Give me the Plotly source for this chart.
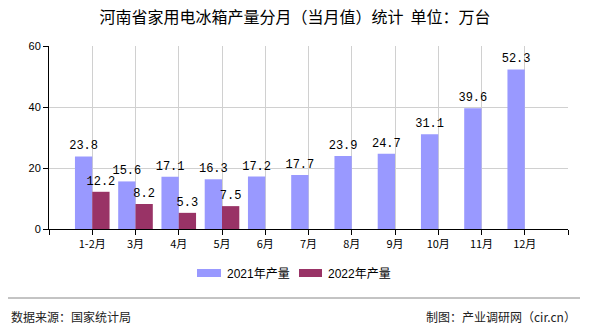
import plotly.graph_objects as go

categories = ["1-2月", "3月", "4月", "5月", "6月", "7月", "8月", "9月", "10月", "11月", "12月"]
values_2021 = [23.8, 15.6, 17.1, 16.3, 17.2, 17.7, 23.9, 24.7, 31.1, 39.6, 52.3]
values_2022 = [12.2, 8.2, 5.3, 7.5, None, None, None, None, None, None, None]
series_names = ["2021年产量", "2022年产量"]
colors = ["#9999FF", "#993366"]

xs = list(range(len(categories)))

def fmt(vals):
    return [("" if v is None else f"{v:.1f}") for v in vals]

fig = go.Figure()
for name, vals, col in zip(series_names, [values_2021, values_2022], colors):
    fig.add_trace(go.Bar(
        x=xs, y=vals, name=name, marker=dict(color=col, line=dict(width=0)),
        text=fmt(vals), textposition="outside", constraintext="none",
        cliponaxis=False,
        textfont=dict(family="Liberation Mono, DejaVu Sans Mono, monospace", size=12, color="#000"),
        showlegend=False,
    ))

tickvals = [-1] + xs + [len(categories)]
ticktext = [""] + categories + [""]

fig.update_layout(
    width=590, height=330,
    margin=dict(l=49, r=22, t=46, b=101),
    paper_bgcolor="white", plot_bgcolor="white",
    barmode="group", bargap=0.2, bargroupgap=0,
    font=dict(family="Noto Sans CJK SC, sans-serif", color="#000"),
    title=dict(text="河南省家用电冰箱产量分月（当月值）统计  单位：万台",
               x=0.5, xanchor="center", y=1 - 17 / 330, yanchor="middle",
               font=dict(size=16, color="#000", family="Noto Sans CJK SC, sans-serif")),
    xaxis=dict(range=[-1, len(categories)], tickvals=tickvals, ticktext=ticktext,
               showgrid=True, gridcolor="#D0D0D0", gridwidth=1,
               showline=True, linecolor="#000", linewidth=1,
               ticks="outside", ticklen=5, tickcolor="#000",
               tickfont=dict(size=11, family="Noto Sans CJK SC, sans-serif", color="#000"),
               zeroline=False, fixedrange=True),
    yaxis=dict(range=[0, 60], tickvals=[0, 20, 40, 60],
               showgrid=True, gridcolor="#D0D0D0", gridwidth=1,
               showline=True, linecolor="#000", linewidth=1,
               ticks="outside", ticklen=5, tickcolor="#000",
               tickfont=dict(size=11, family="Liberation Sans, sans-serif", color="#000"),
               zeroline=False, fixedrange=True),
)

# Legend drawn manually (wide flat swatches like the reference)
legend_items = [(197, 221, series_names[0], colors[0]), (299, 322, series_names[1], colors[1])]
for x0, x1, name, col in legend_items:
    fig.add_shape(type="rect", xref="paper", yref="paper",
                  x0=(x0 - 49) / 519, x1=(x1 - 49) / 519,
                  y0=-(273 + 4 - 229) / 183, y1=-(273 - 4 - 229) / 183,
                  fillcolor=col, line=dict(width=0))
    fig.add_annotation(xref="paper", yref="paper", x=(x1 + 4 - 49) / 519,
                       y=-(274 - 229) / 183, text=name, showarrow=False,
                       xanchor="left", yanchor="middle",
                       font=dict(size=12, color="#000", family="Liberation Sans, Noto Sans CJK SC, sans-serif"))

# Footer
fig.add_shape(type="line", xref="paper", yref="paper",
              x0=(8 - 49) / 519, x1=(580 - 49) / 519,
              y0=-(298 - 229) / 183, y1=-(298 - 229) / 183,
              line=dict(color="#888888", width=1))
fig.add_annotation(xref="paper", yref="paper", x=(9 - 49) / 519, y=-(316 - 229) / 183,
                   text="数据来源：国家统计局", showarrow=False, xanchor="left", yanchor="middle",
                   font=dict(size=12, color="#222", family="Noto Sans CJK SC, sans-serif"))
fig.add_annotation(xref="paper", yref="paper", x=(578 - 49) / 519, y=-(316 - 229) / 183,
                   text="制图：产业调研网（cir.cn）", showarrow=False, xanchor="right", yanchor="middle",
                   font=dict(size=12, color="#222", family="Noto Sans CJK SC, sans-serif"))

fig.write_html("out.html")
